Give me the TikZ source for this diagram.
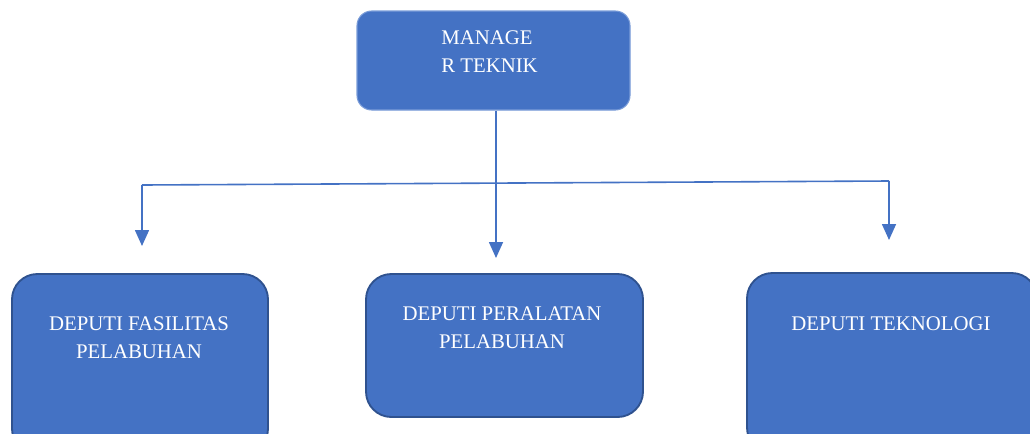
\documentclass[tikz,border=0pt]{standalone}
\usepackage{fontspec}
\setmainfont{Liberation Serif}
\usetikzlibrary{arrows.meta}
\definecolor{boxblue}{HTML}{4472C4}
\definecolor{boxedge}{HTML}{2F528F}
\definecolor{topedge}{HTML}{7A9CD8}
\tikzset{
  topbox/.style={draw=topedge, line width=0.8pt, fill=boxblue, rounded corners=11pt, inner sep=0pt},
  depbox/.style={draw=boxedge, line width=1.4pt, fill=boxblue, rounded corners=19pt, inner sep=0pt},
  lbl/.style={text=white, font=\fontsize{15.6}{21}\selectfont, inner sep=0pt, anchor=north},
  conn/.style={draw=boxblue, line width=1.2pt},
  thin/.style={draw=boxblue, line width=0.8pt},
  arr/.style={conn, -{Triangle[length=12pt, width=10.5pt]}}
}
\begin{document}
\begin{tikzpicture}[x=0.75pt, y=-0.75pt]
\useasboundingbox (0,0) rectangle (1030,433);
\clip (0,0) rectangle (1030,433);
% boxes
\node[topbox, minimum width=273*0.75pt, minimum height=99*0.75pt] (top) at (493.5,60.5) {};
\node[depbox, minimum width=256*0.75pt, minimum height=180*0.75pt] (b1) at (140,364) {};
\node[depbox, minimum width=277*0.75pt, minimum height=143*0.75pt] (b2) at (504.5,345.5) {};
\node[depbox, minimum width=290*0.75pt, minimum height=180*0.75pt] (b3) at (892,363) {};
% texts
\node[lbl, align=left, anchor=north west] (t0) at (441,30) {MANAGE\\R TEKNIK};
\node[lbl, align=center] (t1) at (139,316) {DEPUTI FASILITAS\\PELABUHAN};
\node[lbl, align=center] (t2) at (502,306) {DEPUTI PERALATAN\\PELABUHAN};
\node[lbl, align=center] (t3) at (891,316) {DEPUTI TEKNOLOGI};
% connectors
\coordinate (j) at (496,183);
\coordinate (jl) at (142,185);
\coordinate (jr) at (889,181);
\coordinate (e1) at (142,246);
\coordinate (e2) at (496,258);
\coordinate (e3) at (889,240);
\draw[thin] (top.south -| j) -- (j);
\draw[conn] (jl) -- (jr);
\draw[arr] (jl) -- (e1);
\draw[arr] (j) -- (e2);
\draw[arr] (jr) -- (e3);
\end{tikzpicture}
\end{document}
